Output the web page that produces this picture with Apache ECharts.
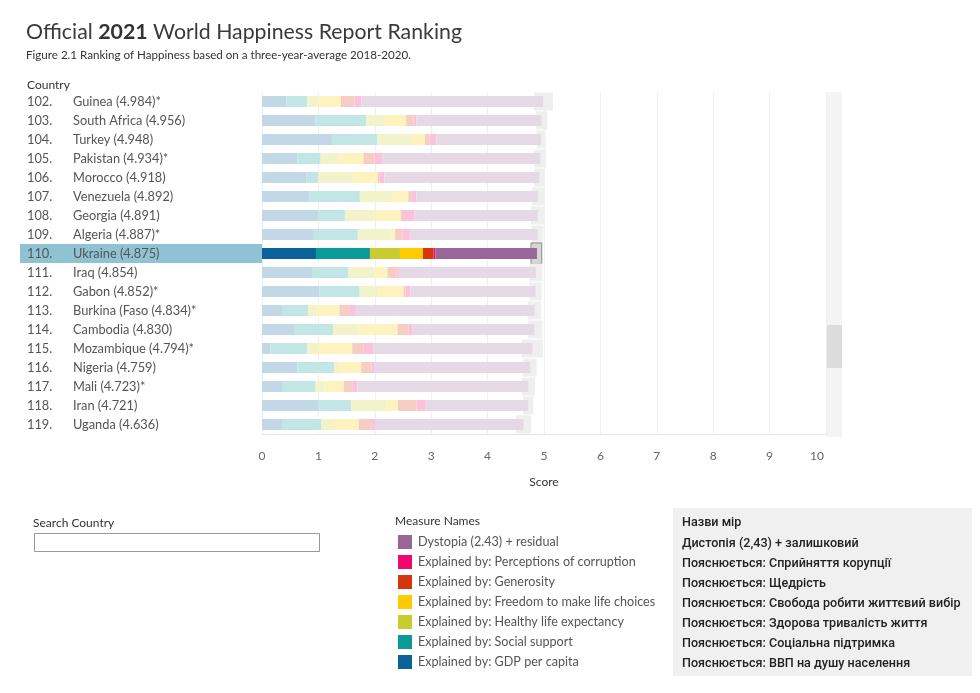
<!DOCTYPE html>
<html>
<head>
<meta charset="utf-8">
<script src="https://cdn.jsdelivr.net/npm/echarts/dist/echarts.min.js"></script>
<style>
  html, body { margin: 0; padding: 0; background: #fff; }
  #main { width: 980px; height: 693px; }
</style>
</head>
<body>
<div id="main"></div>
<script>
// rows shown in the scrolled view (ranks 102 - 119)
const ranks = ['102.', '103.', '104.', '105.', '106.', '107.', '108.', '109.', '110.',
  '111.', '112.', '113.', '114.', '115.', '116.', '117.', '118.', '119.'];
const countries = ['Guinea (4.984)*', 'South Africa (4.956)', 'Turkey (4.948)', 'Pakistan (4.934)*',
  'Morocco (4.918)', 'Venezuela (4.892)', 'Georgia (4.891)', 'Algeria (4.887)*', 'Ukraine (4.875)',
  'Iraq (4.854)', 'Gabon (4.852)*', 'Burkina (Faso (4.834)*', 'Cambodia (4.830)', 'Mozambique (4.794)*',
  'Nigeria (4.759)', 'Mali (4.723)*', 'Iran (4.721)', 'Uganda (4.636)'];
const highlightRank = '110.';

const gdp = [0.43, 0.946, 1.24, 0.63, 0.79, 0.845, 1.0, 0.92, 0.957, 0.886, 1.02, 0.355, 0.58, 0.15, 0.63, 0.37, 1.0, 0.355];
const social = [0.37, 0.90, 0.80, 0.41, 0.21, 0.89, 0.47, 0.78, 0.957, 0.64, 0.71, 0.46, 0.68, 0.65, 0.65, 0.58, 0.58, 0.70];
const health = [0.19, 0.33, 0.62, 0.32, 0.62, 0.59, 0.55, 0.58, 0.532, 0.46, 0.33, 0.16, 0.45, 0.20, 0.07, 0.16, 0.63, 0.20];
const freedom = [0.41, 0.38, 0.23, 0.44, 0.43, 0.27, 0.44, 0.08, 0.408, 0.24, 0.45, 0.40, 0.69, 0.60, 0.41, 0.34, 0.20, 0.46];
const generosity = [0.24, 0.13, 0.08, 0.20, 0.03, 0.06, 0.04, 0.13, 0.189, 0.16, 0.03, 0.17, 0.20, 0.20, 0.18, 0.16, 0.33, 0.22];
const corruption = [0.12, 0.05, 0.12, 0.13, 0.09, 0.08, 0.20, 0.13, 0.03, 0.04, 0.09, 0.12, 0.07, 0.18, 0.06, 0.08, 0.15, 0.07];
const dystopia = [3.224, 2.22, 1.858, 2.804, 2.748, 2.157, 2.191, 2.267, 1.802, 2.428, 2.222, 3.169, 2.16, 2.814, 2.759, 3.033, 1.831, 2.631];

// 95% confidence interval (whisker boxes)
const ciLow = [4.82, 4.86, 4.87, 4.83, 4.83, 4.78, 4.77, 4.78, 4.77, 4.74, 4.74, 4.71, 4.72, 4.60, 4.63, 4.61, 4.63, 4.50];
const ciHigh = [5.16, 5.06, 5.03, 5.04, 5.01, 5.00, 5.00, 4.99, 4.96, 4.97, 4.96, 4.95, 4.97, 4.98, 4.87, 4.84, 4.81, 4.77];

const xTicks = [0, 10, 1]; // min, max, interval

const measureNames = ['Explained by: GDP per capita', 'Explained by: Social support', 'Explained by: Healthy life expectancy',
  'Explained by: Freedom to make life choices', 'Explained by: Generosity', 'Explained by: Perceptions of corruption',
  'Dystopia (2.43) + residual'];
const measureColors = ['#0b6199', '#0c9a98', '#c9cc2f', '#fccb00', '#d6360e', '#f2076e', '#9a6699'];
const ukNames = ['Назви мір', 'Дистопія (2,43) + залишковий', 'Пояснюється: Сприйняття корупції', 'Пояснюється: Щедрість',
  'Пояснюється: Свобода робити життєвий вибір', 'Пояснюється: Здорова тривалість життя',
  'Пояснюється: Соціальна підтримка', 'Пояснюється: ВВП на душу населення'];

const measures = [gdp, social, health, freedom, generosity, corruption, dystopia];
const hi = ranks.indexOf(highlightRank);
const font = 'Lato, "Open Sans", sans-serif';

function fade(hex, a) {
  let n = parseInt(hex.slice(1), 16);
  let c = [(n >> 16) & 255, (n >> 8) & 255, n & 255].map(v => Math.round(v * a + 255 * (1 - a)));
  return 'rgb(' + c.join(',') + ')';
}

let myChart = echarts.init(document.getElementById('main'));

let barSeries = measures.map((vals, k) => ({
  name: measureNames[k],
  type: 'bar',
  stack: 'score',
  barWidth: 11,
  silent: true,
  z: 3,
  data: vals.map((v, i) => ({
    value: v,
    itemStyle: { color: i === hi ? measureColors[k] : fade(measureColors[k], 0.25) }
  }))
}));

let legendOrder = [6, 5, 4, 3, 2, 1, 0];

let option = {
  animation: false,
  backgroundColor: '#fff',
  title: {
    left: 26,
    top: 22,
    padding: 0,
    itemGap: 6,
    text: '{a|Official }{b|2021}{a| World Happiness Report Ranking}',
    textStyle: {
      rich: {
        a: { fontFamily: font, fontSize: 21.3, color: '#3a3a3a', fontWeight: 'normal' },
        b: { fontFamily: font, fontSize: 21.3, color: '#333', fontWeight: 'bold' }
      }
    },
    subtext: 'Figure 2.1 Ranking of Happiness based on a three-year-average 2018-2020.',
    subtextStyle: { fontFamily: font, fontSize: 11.6, color: '#333' }
  },
  legend: {
    orient: 'vertical',
    left: 398,
    top: 535,
    padding: 0,
    itemWidth: 14,
    itemHeight: 14,
    itemGap: 6,
    icon: 'rect',
    selectedMode: false,
    textStyle: { fontFamily: font, fontSize: 12.6, color: '#555', padding: [0, 0, 0, 1] },
    data: legendOrder.map(k => ({ name: measureNames[k], itemStyle: { color: measureColors[k] } }))
  },
  grid: { left: 262, right: 154, top: 92, height: 342 },
  xAxis: {
    type: 'value',
    min: xTicks[0],
    max: xTicks[1],
    interval: xTicks[2],
    name: 'Score',
    nameLocation: 'middle',
    nameGap: 42,
    nameTextStyle: { fontFamily: font, fontSize: 12, color: '#333' },
    axisLine: { show: true, lineStyle: { color: '#e4e4e4' } },
    axisTick: { show: false },
    axisLabel: {
      fontFamily: font, fontSize: 12, color: '#666', margin: 16,
      formatter: v => v === xTicks[1] ? '{last|' + v + '}' : String(v),
      rich: { last: { fontFamily: font, fontSize: 12, color: '#666', padding: [0, 18, 0, 0] } }
    },
    splitLine: { lineStyle: { color: '#efefef' } }
  },
  yAxis: {
    type: 'category',
    inverse: true,
    z: 10,
    data: ranks,
    axisLine: { show: false },
    axisTick: { show: false },
    axisLabel: {
      align: 'left',
      margin: 235,
      formatter: (v, i) => '{r|' + v + '}{n|' + countries[i] + '}',
      rich: {
        r: { width: 46, fontFamily: font, fontSize: 12.8, color: '#555' },
        n: { fontFamily: font, fontSize: 12.8, color: '#555' }
      }
    }
  },
  series: [
    {
      type: 'custom',
      name: 'highlight',
      silent: true,
      z: 1,
      encode: { x: 0, y: 1 },
      data: [[0, hi]],
      renderItem: function(params, api) {
        let p = api.coord([api.value(0), api.value(1)]);
        let h = api.size([0, 1])[1];
        return {
          type: 'rect',
          shape: { x: 20, y: p[1] - h / 2, width: p[0] - 20, height: h },
          style: { fill: '#8fc3d3' }
        };
      }
    },
    {
      type: 'custom',
      name: 'ci',
      silent: true,
      z: 2,
      encode: { x: [0, 1], y: 2 },
      data: ciLow.map((lo, i) => [lo, ciHigh[i], i]),
      renderItem: function(params, api) {
        let a = api.coord([api.value(0), api.value(2)]);
        let b = api.coord([api.value(1), api.value(2)]);
        let isHi = api.value(2) === hi;
        let h = isHi ? 21 : 18;
        return {
          type: 'rect',
          shape: { x: a[0], y: a[1] - h / 2, width: b[0] - a[0], height: h },
          style: isHi ? { fill: '#d6d6d6', stroke: '#8a8a8a', lineWidth: 1 } : { fill: '#efefef' }
        };
      }
    }
  ].concat(barSeries),
  graphic: [
    { type: 'text', left: 27, top: 79, style: { text: 'Country', font: '12px ' + font, fill: '#333' } },
    // scroll bar
    { type: 'rect', shape: { x: 826, y: 92, width: 16, height: 345 }, style: { fill: '#f4f4f4' } },
    { type: 'rect', shape: { x: 826, y: 325, width: 16, height: 43 }, style: { fill: '#dcdcdc' } },
    // search
    { type: 'text', left: 33, top: 517, style: { text: 'Search Country', font: '12px ' + font, fill: '#333' } },
    { type: 'rect', shape: { x: 34.5, y: 533.5, width: 285, height: 18 }, style: { fill: '#fff', stroke: '#999', lineWidth: 1 } },
    { type: 'text', left: 395, top: 515, style: { text: 'Measure Names', font: '12px ' + font, fill: '#333' } },
    // ukrainian names box
    { type: 'rect', shape: { x: 673, y: 508, width: 299, height: 168 }, style: { fill: '#f0f0f0' } }
  ].concat(ukNames.map((t, i) => ({
    type: 'text',
    left: 682,
    top: 516 + i * 20 + (i > 0 ? 1 : 0),
    style: { text: t, fontSize: 12.6, fontWeight: 500, fontFamily: 'Roboto, "Noto Sans", sans-serif', fill: '#222' }
  })))
};

myChart.setOption(option);
</script>
</body>
</html>
